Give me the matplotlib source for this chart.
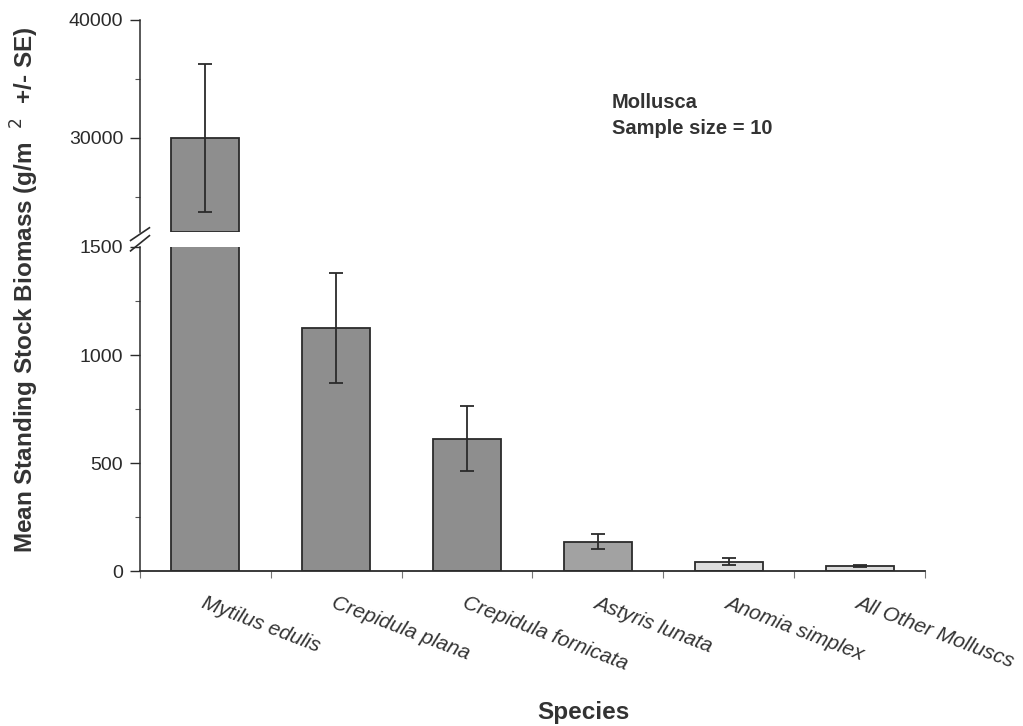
import numpy as np
import matplotlib
matplotlib.use("Agg")
from matplotlib import pyplot as plt
from matplotlib.ticker import MultipleLocator

species = ["Mytilus edulis", "Crepidula plana", "Crepidula fornicata",
           "Astyris lunata", "Anomia simplex", "All Other Molluscs"]
biomass = [30000, 1125, 611, 134, 42, 22]
se_up = [6300, 255, 155, 38, 16, 5]
se_down = [6300, 255, 150, 30, 14, 5]
bar_colors = ["#8e8e8e", "#8e8e8e", "#8e8e8e", "#a2a2a2", "#dcdcdc", "#dcdcdc"]

top_lim = (22000, 40000)
low_lim = (0, 1500)

plt.rcParams['font.family'] = ['Liberation Sans', 'DejaVu Sans']

fig = plt.figure(figsize=(10.23, 7.26), dpi=100)
W, H = 1023, 726
left = 140 / W
width = 785 / W
ax_low = fig.add_axes([left, 1 - 571 / H, width, (571 - 247) / H])
ax_top = fig.add_axes([left, 1 - 232 / H, width, (232 - 20) / H], sharex=ax_low)

x = np.arange(len(species))
bw = 0.52
ink = "#2b2b2b"

ax_low.bar(x, biomass, width=bw, color=bar_colors, edgecolor=ink, linewidth=1.3, zorder=2)
ax_low.errorbar(x, biomass, yerr=[se_down, se_up], fmt='none', ecolor=ink,
                elinewidth=1.3, capsize=5, capthick=1.3, zorder=3)

big = [i for i, v in enumerate(biomass) if v > top_lim[0]]
ax_top.bar(x[big], [biomass[i] - top_lim[0] for i in big], bottom=top_lim[0],
           width=bw, color=[bar_colors[i] for i in big], edgecolor=ink, linewidth=1.3, zorder=2)
ax_top.errorbar(x[big], [biomass[i] for i in big],
                yerr=[[se_down[i] for i in big], [se_up[i] for i in big]],
                fmt='none', ecolor=ink, elinewidth=1.3, capsize=5, capthick=1.3, zorder=3)

ax_low.set_xlim(-0.5, len(species) - 0.5)
ax_low.set_ylim(*low_lim)
ax_top.set_ylim(*top_lim)

for ax in (ax_low, ax_top):
    ax.spines['top'].set_visible(False)
    ax.spines['right'].set_visible(False)
    ax.spines['left'].set_color(ink)
    ax.spines['left'].set_linewidth(1.1)
    ax.tick_params(axis='y', which='major', length=7, width=1, color=ink,
                   labelsize=14, labelcolor="#2a2a2a", pad=5)
    ax.tick_params(axis='y', which='minor', length=3.5, width=0.8, color="#555555")

ax_top.spines['bottom'].set_visible(False)
ax_top.tick_params(axis='x', which='both', bottom=False, labelbottom=False)
ax_top.yaxis.set_minor_locator(MultipleLocator(5000))
ax_top.set_yticks([30000, 40000])

ax_low.set_yticks([0, 500, 1000, 1500])
ax_low.yaxis.set_minor_locator(MultipleLocator(250))
ax_low.spines['bottom'].set_color(ink)
ax_low.spines['bottom'].set_linewidth(1.3)

ax_low.set_xticks(x)
ax_low.set_xticklabels(species, rotation=-21, ha='left', va='top',
                       rotation_mode='anchor', fontsize=15, fontstyle='italic',
                       color="#333333")
ax_low.tick_params(axis='x', which='major', length=0, pad=16)
ax_low.set_xticks(np.arange(len(species) + 1) - 0.5, minor=True)
ax_low.tick_params(axis='x', which='minor', length=5, width=0.8, color="#777777")

# break marks on the y axis
d = 0.012
kw = dict(color=ink, linewidth=1.2, clip_on=False)
ax_low.plot([-d, d], [1 - 0.012, 1 + 0.035], transform=ax_low.transAxes, **kw)
ax_top.plot([-d, d], [-0.04, 0.02], transform=ax_top.transAxes, **kw)

ax_top.text(0.601, 0.655, "Mollusca\nSample size = 10", transform=ax_top.transAxes,
            fontsize=14.5, fontweight='bold', color="#333333", va='top',
            linespacing=1.45)

fig.text(25 / W, 1 - 290 / H, "Mean Standing Stock Biomass (g/m  $^{2}$  +/- SE)",
         rotation=90, ha='center', va='center', fontsize=17.5, fontweight='bold',
         color="#333333")
fig.text(583 / W, 1 - 712 / H, "Species", ha='center', va='center',
         fontsize=17.5, fontweight='bold', color="#333333")

fig.savefig("out.png", dpi=100, facecolor="white")
